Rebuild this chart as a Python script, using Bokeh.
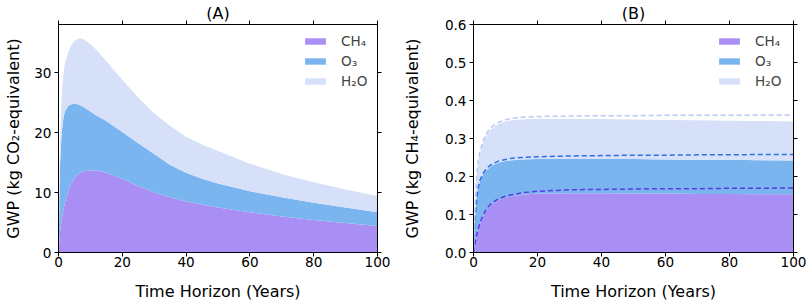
from bokeh.plotting import figure
from bokeh.layouts import row
from bokeh.models import Range1d, LinearAxis, FixedTicker, PrintfTickFormatter
from bokeh.embed import file_html
from bokeh.resources import INLINE

# ---------------- Panel A data (cumulative stacked tops, kg CO2-eq) ----------------
a_t = [0, 0.5, 1, 1.5, 2, 3, 4, 5, 6, 7, 8, 10, 12, 15, 18, 20, 25, 30, 35, 40, 45, 50, 60, 70, 80, 90, 100]
a_ch4 = [0, 3.5, 5.5, 7.0, 8.3, 10.2, 11.5, 12.4, 13.0, 13.35, 13.55, 13.7, 13.65, 13.3, 12.7, 12.3, 11.1,
         10.0, 9.2, 8.5, 8.0, 7.5, 6.7, 6.0, 5.4, 4.9, 4.4]
a_o3_top = [0, 15, 20, 22.3, 23.5, 24.4, 24.7, 24.8, 24.7, 24.5, 24.2, 23.5, 22.8, 21.9, 20.8, 20.1, 18.2,
            16.4, 14.6, 13.3, 12.3, 11.5, 10.2, 9.2, 8.3, 7.5, 6.7]
a_h2o_top = [0, 19, 26, 29.5, 31.5, 33.3, 34.6, 35.3, 35.6, 35.7, 35.5, 34.7, 33.7, 31.9, 30.0, 28.8, 25.8,
             23.2, 21.1, 19.3, 18.0, 16.9, 14.8, 13.1, 11.7, 10.5, 9.4]

# ---------------- Panel B data (kg CH4-eq) ----------------
b_t = [0, 0.5, 1, 1.5, 2, 3, 4, 5, 6, 8, 10, 12, 15, 20, 30, 40, 50, 60, 70, 80, 90, 100]
b_ch4 = [0, 0.025, 0.045, 0.06, 0.075, 0.095, 0.11, 0.12, 0.128, 0.138, 0.144, 0.148, 0.152, 0.155, 0.156,
         0.156, 0.155, 0.155, 0.154, 0.154, 0.153, 0.153]
b_ch4_dash = [0, 0.025, 0.045, 0.062, 0.078, 0.098, 0.114, 0.124, 0.132, 0.142, 0.148, 0.152, 0.157, 0.161,
              0.165, 0.166, 0.167, 0.168, 0.168, 0.169, 0.169, 0.170]
b_o3_top = [0, 0.09, 0.14, 0.17, 0.188, 0.205, 0.216, 0.224, 0.23, 0.237, 0.241, 0.243, 0.245, 0.246, 0.247,
            0.247, 0.246, 0.245, 0.244, 0.244, 0.243, 0.242]
b_o3_dash = [0, 0.09, 0.14, 0.172, 0.19, 0.208, 0.22, 0.228, 0.234, 0.241, 0.245, 0.248, 0.25, 0.252, 0.254,
             0.255, 0.256, 0.256, 0.257, 0.257, 0.258, 0.258]
b_h2o_top = [0, 0.12, 0.2, 0.24, 0.262, 0.29, 0.308, 0.32, 0.328, 0.339, 0.345, 0.348, 0.35, 0.352, 0.352,
             0.351, 0.35, 0.349, 0.348, 0.347, 0.346, 0.345]
b_h2o_dash = [0, 0.12, 0.2, 0.242, 0.265, 0.294, 0.312, 0.325, 0.333, 0.343, 0.349, 0.353, 0.356, 0.358,
              0.359, 0.36, 0.36, 0.361, 0.361, 0.361, 0.362, 0.362]

x_ticks = [0, 20, 40, 60, 80, 100]
a_y_ticks = [0, 10, 20, 30]
b_y_ticks = [0, 0.1, 0.2, 0.3, 0.4, 0.5, 0.6]
labels = ["CH\u2084", "O\u2083", "H\u2082O"]
x_title = "Time Horizon (Years)"

C_CH4 = "#a98ff3"
C_O3 = "#7bb5ef"
C_H2O = "#d6e0f8"
D_CH4 = "#5a3be6"
D_O3 = "#2a70e6"
D_H2O = "#b6c8f4"

FONT = "DejaVu Sans"
FIG_H = 303
BORDER_TOP = 24
BORDER_BOTTOM = 51
FRAME_H = FIG_H - BORDER_TOP - BORDER_BOTTOM


def blank(ticks):
    return {t: "" for t in ticks}


def style(p, title, ylabel, yticks, ylabel_standoff, legend_x, fmt=None):
    p.outline_line_color = "black"
    p.grid.visible = False
    for ax in p.axis:
        ax.axis_line_color = "black"
        ax.major_tick_line_color = "black"
        ax.major_tick_out = 4
        ax.major_tick_in = 0
        ax.minor_tick_line_color = None
        ax.major_label_text_font = FONT
        ax.major_label_text_font_size = "13.6px"
        ax.major_label_text_color = "black"
        ax.axis_label_text_font = FONT
        ax.axis_label_text_font_size = "16px"
        ax.axis_label_text_font_style = "normal"
        ax.axis_label_text_color = "black"
    p.xaxis.ticker = FixedTicker(ticks=x_ticks)
    p.xaxis.major_label_standoff = 0
    p.xaxis.axis_label = x_title
    p.xaxis.axis_label_standoff = 12
    p.yaxis.ticker = FixedTicker(ticks=yticks)
    p.yaxis.major_label_standoff = 3
    p.yaxis.axis_label = ylabel
    p.yaxis.axis_label_standoff = ylabel_standoff
    if fmt:
        p.yaxis.formatter = PrintfTickFormatter(format=fmt)
    top = LinearAxis(ticker=FixedTicker(ticks=x_ticks), axis_label=title,
                     major_label_overrides=blank(x_ticks), major_tick_out=4, major_tick_in=0,
                     minor_tick_line_color=None, major_label_standoff=0,
                     axis_label_text_font=FONT, axis_label_text_font_size="16px",
                     axis_label_text_font_style="normal", axis_label_text_color="black",
                     axis_label_standoff=-2)
    p.add_layout(top, "above")
    right = LinearAxis(ticker=FixedTicker(ticks=yticks), major_label_overrides=blank(yticks),
                       major_tick_out=4, major_tick_in=0, minor_tick_line_color=None,
                       major_label_standoff=0)
    p.add_layout(right, "right")
    lg = p.legend[0]
    lg.location = (legend_x, FRAME_H - 7 - 60)
    lg.border_line_color = None
    lg.background_fill_alpha = 0
    lg.label_text_font = FONT
    lg.label_text_font_size = "13.6px"
    lg.glyph_width = 26
    lg.glyph_height = 8
    lg.label_height = 20
    lg.spacing = 0
    lg.padding = 0
    lg.margin = 0
    lg.label_standoff = 13
    lg.label_text_baseline = "middle"


# ---------------- Panel A ----------------
pa = figure(width=398, height=FIG_H, output_backend="svg", toolbar_location=None,
            x_range=Range1d(0, 100), y_range=Range1d(0, 38),
            min_border_left=58, min_border_right=21, min_border_top=BORDER_TOP,
            min_border_bottom=BORDER_BOTTOM)
pa.varea(x=a_t, y1=[0] * len(a_t), y2=a_ch4, fill_color=C_CH4, legend_label=labels[0])
pa.varea(x=a_t, y1=a_ch4, y2=a_o3_top, fill_color=C_O3, legend_label=labels[1])
pa.varea(x=a_t, y1=a_o3_top, y2=a_h2o_top, fill_color=C_H2O, legend_label=labels[2])
style(pa, "(A)", "GWP (kg CO\u2082-equivalent)", a_y_ticks, 8, 244)

# ---------------- Panel B ----------------
pb = figure(width=411, height=FIG_H, output_backend="svg", toolbar_location=None,
            x_range=Range1d(0, 100), y_range=Range1d(0, 0.6),
            min_border_left=75, min_border_right=16, min_border_top=BORDER_TOP,
            min_border_bottom=BORDER_BOTTOM)
pb.varea(x=b_t, y1=[0] * len(b_t), y2=b_ch4, fill_color=C_CH4, legend_label=labels[0])
pb.varea(x=b_t, y1=b_ch4, y2=b_o3_top, fill_color=C_O3, legend_label=labels[1])
pb.varea(x=b_t, y1=b_o3_top, y2=b_h2o_top, fill_color=C_H2O, legend_label=labels[2])
pb.line(b_t, b_ch4_dash, line_color=D_CH4, line_width=1.5, line_dash="5 3")
pb.line(b_t, b_o3_dash, line_color=D_O3, line_width=1.5, line_dash="5 3")
pb.line(b_t, b_h2o_dash, line_color=D_H2O, line_width=1.5, line_dash="5 3")
style(pb, "(B)", "GWP (kg CH\u2084-equivalent)", b_y_ticks, 20, 243, "%.1f")

layout = row(pa, pb)
open("out.html", "w").write(file_html(layout, INLINE))
